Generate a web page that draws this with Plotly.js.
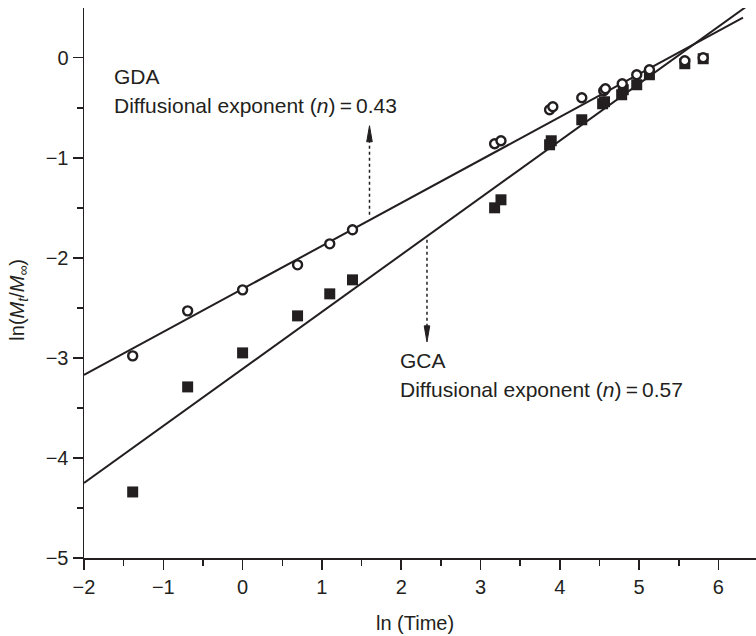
<!DOCTYPE html>
<html>
<head>
<meta charset="utf-8">
<script src="https://cdn.plot.ly/plotly-3.0.1.min.js"></script>
<style>html,body{margin:0;padding:0;background:#fff;}#chart{width:756px;height:636px;}</style>
</head>
<body>
<div id="chart"></div>
<script>
// GDA (open circles): ln(time) and ln(Mt/Minf)
const gdaX = [-1.386, -0.693, 0, 0.693, 1.099, 1.386, 3.178, 3.258, 3.871, 3.912, 4.277, 4.554, 4.575, 4.787, 4.970, 5.130, 5.576, 5.808];
const gdaY = [-2.98, -2.53, -2.32, -2.07, -1.86, -1.72, -0.86, -0.83, -0.52, -0.49, -0.40, -0.33, -0.31, -0.26, -0.17, -0.12, -0.03, 0.00];
// GCA (filled squares)
const gcaX = [-1.386, -0.693, 0, 0.693, 1.099, 1.386, 3.178, 3.258, 3.871, 3.892, 4.277, 4.540, 4.564, 4.780, 4.800, 4.970, 5.130, 5.576, 5.808];
const gcaY = [-4.34, -3.29, -2.95, -2.58, -2.36, -2.22, -1.50, -1.42, -0.87, -0.83, -0.62, -0.46, -0.44, -0.37, -0.32, -0.27, -0.17, -0.06, -0.01];
// Fitted lines (end points)
const gdaFitX = [-2, 6.31];
const gdaFitY = [-3.17, 0.40];
const gcaFitX = [-2, 6.35];
const gcaFitY = [-4.25, 0.51];
// Tick labels
const xTicks = [-2, -1, 0, 1, 2, 3, 4, 5, 6];
const yTicks = [-5, -4, -3, -2, -1, 0];

const ink = '#231f20';
const font = "'Liberation Sans', Arial, Helvetica, sans-serif";

const traces = [
  {x: gdaFitX, y: gdaFitY, mode: 'lines', line: {color: ink, width: 2}, hoverinfo: 'skip', cliponaxis: true},
  {x: gcaFitX, y: gcaFitY, mode: 'lines', line: {color: ink, width: 2}, hoverinfo: 'skip', cliponaxis: true},
  {x: gcaX, y: gcaY, mode: 'markers', marker: {symbol: 'square', size: 11, color: ink, line: {width: 0}}, cliponaxis: false},
  {x: gdaX, y: gdaY, mode: 'markers', marker: {symbol: 'circle', size: 9, color: '#ffffff', line: {color: ink, width: 2.4}}, cliponaxis: false}
];

const layout = {
  width: 756, height: 636,
  margin: {l: 84, r: 0, t: 8, b: 78},
  paper_bgcolor: '#fff', plot_bgcolor: '#fff',
  showlegend: false,
  font: {family: font, size: 20, color: ink},
  xaxis: {
    range: [-2, 6.474], tickvals: xTicks, ticktext: xTicks.map(v => v < 0 ? '\u2212' + Math.abs(v) : String(v)),
    showgrid: false, zeroline: false, showline: true, linecolor: ink, linewidth: 1.5,
    ticks: 'outside', ticklen: 10, tickwidth: 1.5, tickcolor: ink,
    tickfont: {family: font, size: 20, color: ink},
    minor: {dtick: 0.5, ticks: 'outside', ticklen: 6, tickwidth: 1.5, tickcolor: ink, showgrid: false}
  },
  yaxis: {
    range: [-5, 0.497], tickvals: yTicks, ticktext: yTicks.map(v => v < 0 ? '\u2212' + Math.abs(v) : String(v)),
    showgrid: false, zeroline: false, showline: true, linecolor: ink, linewidth: 1.5,
    ticks: 'outside', ticklen: 10, tickwidth: 1.5, tickcolor: ink,
    tickfont: {family: font, size: 20, color: ink},
    minor: {dtick: 0.5, ticks: 'outside', ticklen: 6, tickwidth: 1.5, tickcolor: ink, showgrid: false}
  },
  shapes: [
    {type: 'line', xref: 'x', yref: 'y', x0: 1.60, x1: 1.60, y0: -1.57, y1: -0.82, line: {color: ink, width: 1.5, dash: 'dot'}},
    {type: 'path', xref: 'x', yref: 'y', path: 'M 1.60,-0.68 L 1.565,-0.84 L 1.635,-0.84 Z', fillcolor: ink, line: {color: ink, width: 1}},
    {type: 'line', xref: 'x', yref: 'y', x0: 2.325, x1: 2.325, y0: -1.82, y1: -2.70, line: {color: ink, width: 1.5, dash: 'dot'}},
    {type: 'path', xref: 'x', yref: 'y', path: 'M 2.325,-2.84 L 2.29,-2.68 L 2.36,-2.68 Z', fillcolor: ink, line: {color: ink, width: 1}}
  ],
  annotations: [
    {xref: 'x', yref: 'y', x: -1.65, y: -0.19, xanchor: 'left', yanchor: 'middle', showarrow: false, text: 'GDA', font: {family: font, size: 21, color: ink}},
    {xref: 'x', yref: 'y', x: -1.65, y: -0.48, xanchor: 'left', yanchor: 'middle', showarrow: false, text: 'Diffusional exponent (<i>n</i>)\u2009=\u20090.43', font: {family: font, size: 21, color: ink}},
    {xref: 'x', yref: 'y', x: 1.96, y: -3.03, xanchor: 'left', yanchor: 'middle', showarrow: false, text: 'GCA', font: {family: font, size: 21, color: ink}},
    {xref: 'x', yref: 'y', x: 1.96, y: -3.32, xanchor: 'left', yanchor: 'middle', showarrow: false, text: 'Diffusional exponent (<i>n</i>)\u2009=\u20090.57', font: {family: font, size: 21, color: ink}},
    {xref: 'paper', yref: 'paper', x: 0.492, y: -0.095, xanchor: 'center', yanchor: 'top', showarrow: false, text: 'ln (Time)', font: {family: font, size: 20, color: ink}},
    {xref: 'paper', yref: 'paper', x: -0.098, y: 0.47, xanchor: 'center', yanchor: 'middle', textangle: -90, showarrow: false, text: 'ln(<i>M<sub>t</sub></i>/<i>M</i><sub>\u221e</sub>)', font: {family: font, size: 20, color: ink}}
  ]
};

Plotly.newPlot('chart', traces, layout, {displayModeBar: false, staticPlot: true});
</script>
</body>
</html>
